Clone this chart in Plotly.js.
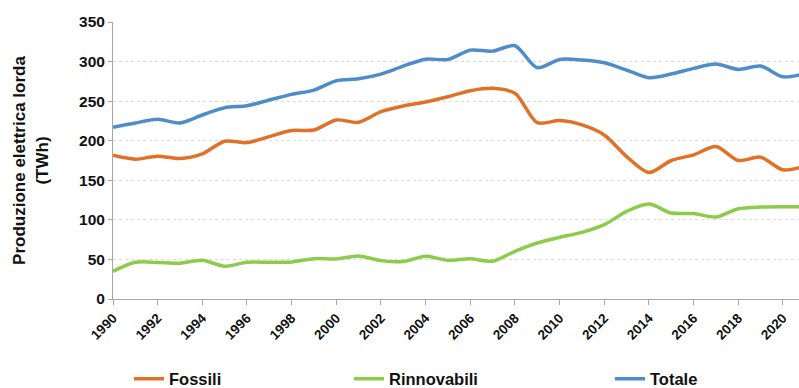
<!DOCTYPE html>
<html>
<head>
<meta charset="utf-8">
<script src="https://cdn.plot.ly/plotly-3.0.1.min.js"></script>
<style>
  html, body { margin: 0; padding: 0; background: #fff; }
  #chart { width: 799px; height: 388px; }
</style>
</head>
<body>
<div id="chart"></div>
<script>
const years = [1990,1991,1992,1993,1994,1995,1996,1997,1998,1999,2000,2001,2002,2003,2004,2005,2006,2007,2008,2009,2010,2011,2012,2013,2014,2015,2016,2017,2018,2019,2020,2021];
const fossili = [181.7,176.7,180.5,177.5,183.4,199.4,197.6,205.2,212.8,213.6,226.2,223.3,236.7,243.9,249.0,255.6,263.2,266.2,259.9,222.8,225.4,220.0,207.3,180.0,159.8,175.0,182.1,192.6,175.0,179.2,163.2,168.0];
const rinnovabili = [35.0,46.4,46.2,45.2,48.9,41.4,46.4,46.4,46.8,51.0,50.6,54.4,48.5,47.3,54.0,48.9,51.0,47.7,60.3,70.8,77.9,84.2,93.9,110.7,120.0,108.6,108.0,103.6,114.0,116.2,116.6,116.5];
const totale = [217.0,222.5,227.0,222.5,232.5,241.7,244.3,251.4,258.6,264.0,275.8,278.3,284.2,294.3,303.0,302.7,314.5,313.2,320.0,292.2,302.7,301.9,298.5,289.3,279.6,284.2,291.4,296.8,290.1,294.3,280.8,285.0];
const tickYears = [1990,1992,1994,1996,1998,2000,2002,2004,2006,2008,2010,2012,2014,2016,2018,2020];
const yTicks = [0,50,100,150,200,250,300,350];

const font = "Liberation Sans, Arial, sans-serif";
function tr(name, y, color, legend) {
  return {
    x: years, y: y, name: name, type: 'scatter', mode: 'lines',
    line: {color: color, width: 3.5, shape: 'spline', smoothing: 0.8},
    legend: legend, hoverinfo: 'skip'
  };
}
const data = [
  tr('Fossili', fossili, '#E07127', 'legend'),
  tr('Rinnovabili', rinnovabili, '#8DCB4B', 'legend2'),
  tr('Totale', totale, '#4E8DC9', 'legend3')
];
const legBase = {
  orientation: 'h', xref: 'paper', yref: 'container', yanchor: 'middle', xanchor: 'left',
  y: 9/388, font: {family: font, size: 16.5, color: '#111', weight: 'bold'},
  bgcolor: 'rgba(0,0,0,0)', itemwidth: 30, tracegroupgap: 0
};
const layout = {
  width: 799, height: 388,
  margin: {l: 113, r: 0, t: 22, b: 88.5},
  paper_bgcolor: '#fff', plot_bgcolor: '#fff',
  font: {family: font, color: '#111'},
  showlegend: true,
  legend: Object.assign({}, legBase, {x: (129 - 113)/686}),
  legend2: Object.assign({}, legBase, {x: (349 - 113)/686}),
  legend3: Object.assign({}, legBase, {x: (610 - 113)/686}),
  xaxis: {
    range: [1990, 2020.72], tickmode: 'array', tickvals: tickYears, ticktext: tickYears.map(String),
    tickangle: -45, ticks: 'outside', ticklen: 5, tickcolor: '#a6a6a6', tickwidth: 1,
    showline: true, linecolor: '#a6a6a6', linewidth: 1, showgrid: false, zeroline: false,
    tickfont: {family: font, size: 13.5, color: '#111', weight: 'bold'}
  },
  yaxis: {
    range: [0, 350], tickmode: 'array', tickvals: yTicks,
    ticks: 'outside', ticklen: 4, tickcolor: '#a6a6a6',
    showline: true, linecolor: '#a6a6a6', linewidth: 1,
    showgrid: true, gridcolor: '#dcdcdc', griddash: 'dot', gridwidth: 1, zeroline: false,
    tickfont: {family: font, size: 15.5, color: '#111', weight: 'bold'},
    title: {text: 'Produzione elettrica lorda<br>(TWh)', standoff: 26,
            font: {family: font, size: 17, color: '#111', weight: 'bold'}}
  }
};
Plotly.newPlot('chart', data, layout, {displayModeBar: false, staticPlot: true});
</script>
</body>
</html>
